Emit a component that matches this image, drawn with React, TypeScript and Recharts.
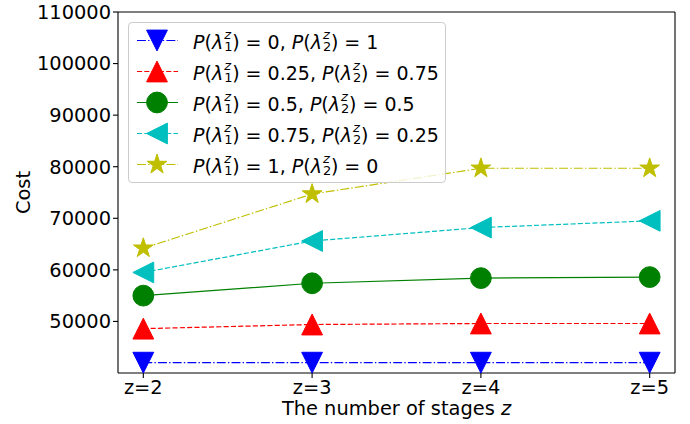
import React from 'react';
import { LineChart, Line, XAxis, YAxis, Legend, ReferenceLine } from 'recharts';

// stages on the x axis
const stages = [2, 3, 4, 5];
const yTicks = [50000, 60000, 70000, 80000, 90000, 100000, 110000];

// cost per stage for each probability split
const costP0 = [42000, 42000, 42000, 42000];
const costP025 = [48600, 49400, 49600, 49600];
const costP05 = [55000, 57400, 58400, 58600];
const costP075 = [59500, 65600, 68200, 69500];
const costP1 = [64200, 74700, 79700, 79700];

const p1Labels = ['0', '0.25', '0.5', '0.75', '1'];
const p2Labels = ['1', '0.75', '0.5', '0.25', '0'];

const FONT = '"DejaVu Sans", sans-serif';
const DASHED = '5.1 2.2';
const DASHDOT = '8.9 2.2 1.4 2.2';
const MS = 10.4; // half marker size

type Shape = 'down' | 'up' | 'circle' | 'left' | 'star';

const series: { key: string; color: string; shape: Shape; dash?: string }[] = [
  { key: 'p0', color: '#0000ff', shape: 'down', dash: DASHDOT },
  { key: 'p025', color: '#ff0000', shape: 'up', dash: DASHED },
  { key: 'p05', color: '#008000', shape: 'circle' },
  { key: 'p075', color: '#00bfbf', shape: 'left', dash: DASHED },
  { key: 'p1', color: '#bfbf00', shape: 'star', dash: DASHDOT },
];

const data = stages.map((z, i) => ({
  z,
  p0: costP0[i],
  p025: costP025[i],
  p05: costP05[i],
  p075: costP075[i],
  p1: costP1[i],
}));

function Marker({ cx, cy, shape, color }: { cx: number; cy: number; shape: Shape; color: string }) {
  const r = MS;
  if (shape === 'circle') return <circle cx={cx} cy={cy} r={r} fill={color} stroke={color} strokeWidth={1} />;
  let pts: number[][] = [];
  if (shape === 'down') pts = [[cx, cy + r], [cx - r, cy - r], [cx + r, cy - r]];
  if (shape === 'up') pts = [[cx, cy - r], [cx - r, cy + r], [cx + r, cy + r]];
  if (shape === 'left') pts = [[cx - r, cy], [cx + r, cy - r], [cx + r, cy + r]];
  if (shape === 'star') {
    for (let k = 0; k < 10; k++) {
      const rad = k % 2 === 0 ? r : r * 0.381966;
      const a = -Math.PI / 2 + (k * Math.PI) / 5;
      pts.push([cx + rad * Math.cos(a), cy + rad * Math.sin(a)]);
    }
  }
  return <polygon points={pts.map((p) => p.join(',')).join(' ')} fill={color} stroke={color} strokeWidth={1} />;
}

// stacked superscript z / subscript index, like mathtext
const Script = ({ sub }: { sub: string }) => (
  <span style={{ position: 'relative', display: 'inline-block', width: 9, height: 19 }}>
    <i style={{ position: 'absolute', left: 1, top: 0.5, fontSize: 13, lineHeight: '10px' }}>z</i>
    <span style={{ position: 'absolute', left: 1, top: 12, fontSize: 13, lineHeight: '10px' }}>{sub}</span>
  </span>
);

const renderLegend = () => (
  <div
    style={{
      width: 316,
      border: '1px solid #cccccc',
      borderRadius: 4,
      background: 'rgba(255,255,255,0.8)',
      padding: '2px 0',
      fontFamily: FONT,
      fontSize: 19,
      color: '#000',
    }}
  >
    {series.map((s, i) => (
      <div key={s.key} style={{ height: 31, display: 'flex', alignItems: 'center' }}>
        <svg width={64} height={31} style={{ flex: 'none' }}>
          <line x1={8} x2={49} y1={15.5} y2={15.5} stroke={s.color} strokeWidth={1.2} strokeDasharray={s.dash} />
          <Marker cx={28} cy={15.5} shape={s.shape} color={s.color} />
        </svg>
        <span style={{ whiteSpace: 'nowrap', lineHeight: '19px' }}>
          <i>P</i>(<i>λ</i>
          <Script sub="1" />) = {p1Labels[i]}, <i>P</i>(<i>λ</i>
          <Script sub="2" />) = {p2Labels[i]}
        </span>
      </div>
    ))}
  </div>
);

const tickStyle = { fontSize: 19.4, fill: '#000', fontFamily: FONT };
const labelStyle = { fontSize: 19.4, fill: '#000', fontFamily: FONT };

export default function App() {
  return (
    <div style={{ position: 'absolute', top: 0, left: 0, background: '#fff' }}>
      <LineChart width={690} height={424} data={data} margin={{ top: 12, right: 15, bottom: 0, left: 0 }}>
        <XAxis
          dataKey="z"
          type="number"
          domain={[1.85, 5.15]}
          ticks={stages}
          tickFormatter={(v) => `z=${v}`}
          height={51}
          tick={tickStyle}
          tickSize={5}
          stroke="#000"
          strokeWidth={1.1}
          label={() => (
            <text x={396.5} y={415} textAnchor="middle" style={labelStyle}>
              The number of stages <tspan fontStyle="italic">z</tspan>
            </text>
          )}
        />
        <YAxis
          type="number"
          domain={[40000, 110000]}
          ticks={yTicks}
          width={118}
          tick={tickStyle}
          tickSize={5}
          stroke="#000"
          strokeWidth={1.1}
          label={() => (
            <text
              x={23}
              y={192.5}
              transform="rotate(-90, 23, 192.5)"
              textAnchor="middle"
              dominantBaseline="central"
              style={labelStyle}
            >
              Cost
            </text>
          )}
        />
        <ReferenceLine y={110000} stroke="#000" strokeWidth={1.1} />
        <ReferenceLine x={5.15} stroke="#000" strokeWidth={1.1} />
        {series.map((s) => (
          <Line
            key={s.key}
            dataKey={s.key}
            type="linear"
            stroke={s.color}
            strokeWidth={1.2}
            strokeDasharray={s.dash}
            isAnimationActive={false}
            dot={(p: any) => <Marker key={`${s.key}-${p.index}`} cx={p.cx} cy={p.cy} shape={s.shape} color={s.color} />}
            activeDot={false}
          />
        ))}
        <Legend
          content={renderLegend}
          layout="horizontal"
          verticalAlign="middle"
          wrapperStyle={{ top: 22, left: 128, width: 318 }}
        />
      </LineChart>
    </div>
  );
}
